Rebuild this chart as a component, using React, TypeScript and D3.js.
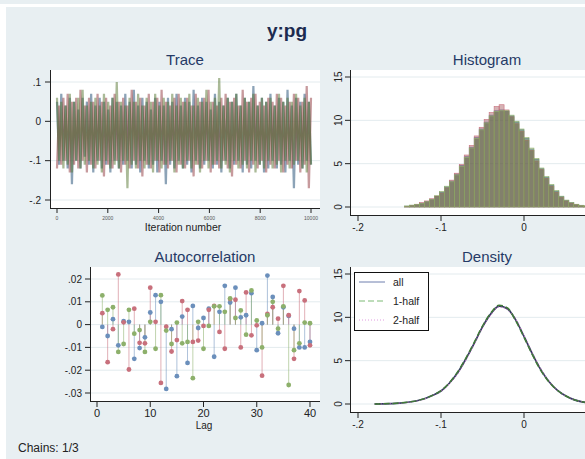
import React from 'react';
import * as d3 from 'd3';

// chain colours (stata s2color style)
const chainLine = ['#1a476f', '#90353b', '#55752f'];
const chainDot = ['#6b8fbb', '#c8707c', '#8db06b'];

// ---- trace: one value every ~84 iterations, three chains
const traceChain1 = [
  0.05, -0.11, 0.07, -0.10, 0.04, -0.12, 0.06, -0.16, 0.05, -0.10,
  0.03, -0.12, 0.06, -0.09, 0.05, -0.11, 0.07, -0.13, 0.04, -0.10,
  0.06, -0.12, 0.05, -0.11, 0.03, -0.13, 0.06, -0.10, 0.05, -0.12,
  0.04, -0.11, 0.07, -0.10, 0.05, -0.12, 0.08, -0.11, 0.04, -0.13,
  0.06, -0.10, 0.05, -0.12, 0.03, -0.11, 0.06, -0.13, 0.05, -0.10,
  0.04, -0.16, 0.06, -0.11, 0.05, -0.12, 0.07, -0.10, 0.04, -0.12,
  0.06, -0.11, 0.05, -0.13, 0.08, -0.10, 0.04, -0.12, 0.06, -0.11,
  0.05, -0.10, 0.03, -0.12, 0.07, -0.11, 0.05, -0.13, 0.04, -0.10,
  0.06, -0.12, 0.05, -0.11, 0.07, -0.10, 0.04, -0.13, 0.06, -0.11,
  0.05, -0.12, 0.09, -0.10, 0.04, -0.11, 0.06, -0.13, 0.05, -0.12,
  0.07, -0.10, 0.04, -0.12, 0.06, -0.11, 0.05, -0.13, 0.08, -0.10,
  0.04, -0.17, 0.06, -0.11, 0.05, -0.12, 0.07, -0.10, 0.05, -0.11,
];
const traceChain2 = [
  -0.12, 0.04, -0.11, 0.06, -0.10, 0.07, -0.13, 0.05, -0.11, 0.06,
  -0.12, 0.08, -0.10, 0.04, -0.13, 0.06, -0.11, 0.05, -0.12, 0.07,
  -0.10, 0.05, -0.14, 0.06, -0.11, 0.04, -0.12, 0.07, -0.10, 0.05,
  -0.13, 0.06, -0.11, 0.04, -0.12, 0.08, -0.10, 0.05, -0.12, 0.06,
  -0.14, 0.04, -0.11, 0.07, -0.12, 0.05, -0.10, 0.06, -0.13, 0.08,
  -0.11, 0.05, -0.12, 0.04, -0.10, 0.06, -0.13, 0.07, -0.11, 0.05,
  -0.12, 0.06, -0.10, 0.04, -0.14, 0.07, -0.11, 0.05, -0.12, 0.06,
  -0.10, 0.08, -0.13, 0.05, -0.11, 0.04, -0.12, 0.06, -0.10, 0.07,
  -0.12, 0.05, -0.14, 0.06, -0.11, 0.04, -0.12, 0.08, -0.10, 0.05,
  -0.13, 0.06, -0.11, 0.07, -0.12, 0.05, -0.10, 0.04, -0.13, 0.06,
  -0.11, 0.05, -0.12, 0.07, -0.10, 0.06, -0.13, 0.04, -0.11, 0.05,
  -0.12, 0.07, -0.10, 0.06, -0.13, 0.05, -0.11, 0.09, -0.17, 0.06,
];
const traceChain3 = [
  0.06, -0.10, 0.05, -0.12, 0.04, -0.11, 0.07, -0.13, 0.05, -0.10,
  0.06, -0.12, 0.08, -0.11, 0.04, -0.10, 0.05, -0.12, 0.06, -0.11,
  0.04, -0.13, 0.07, -0.10, 0.05, -0.12, 0.06, -0.11, 0.10, -0.12,
  0.05, -0.10, 0.04, -0.17, 0.06, -0.11, 0.05, -0.12, 0.07, -0.10,
  0.04, -0.12, 0.06, -0.11, 0.05, -0.13, 0.07, -0.10, 0.04, -0.12,
  0.06, -0.11, 0.05, -0.10, 0.07, -0.13, 0.04, -0.11, 0.06, -0.12,
  0.05, -0.10, 0.07, -0.12, 0.04, -0.11, 0.06, -0.13, 0.05, -0.10,
  0.08, -0.12, 0.05, -0.11, 0.06, -0.10, 0.11, -0.12, 0.04, -0.11,
  0.06, -0.13, 0.05, -0.10, 0.07, -0.12, 0.04, -0.11, 0.06, -0.12,
  0.05, -0.10, 0.07, -0.13, 0.04, -0.11, 0.06, -0.12, 0.05, -0.10,
  0.06, -0.12, 0.04, -0.11, 0.07, -0.13, 0.05, -0.10, 0.06, -0.12,
  0.05, -0.11, 0.07, -0.10, 0.04, -0.12, 0.06, -0.13, 0.05, -0.11,
];
const traceIterations = 10000;
const traceXTicks = [0, 2000, 4000, 6000, 8000, 10000];
const traceYTicks = [-0.2, -0.1, 0, 0.1];
const traceYLabels = ['-.2', '-.1', '0', '.1'];

// ---- histogram: density per bin, bins start at -.144, width .006
const histBinLow = -0.144;
const histBinWidth = 0.006;
const histChain1 = [0.1, 0.2, 0.3, 0.45, 0.65, 0.9, 1.2, 1.7, 2.3, 3.0, 3.8, 4.8, 5.8, 6.9, 8.0, 9.0, 9.8, 10.6, 11.1, 11.2,
  11.0, 10.5, 9.8, 8.9, 7.9, 6.6, 5.5, 4.4, 3.4, 2.5, 1.8, 1.2, 0.75, 0.5, 0.3, 0.2, 0.12, 0.07, 0.04];
const histChain2 = [0.08, 0.18, 0.32, 0.5, 0.7, 0.95, 1.25, 1.6, 2.2, 3.1, 3.9, 4.9, 6.0, 7.1, 8.2, 9.2, 10.1, 10.9, 11.6, 11.8,
  11.2, 10.4, 9.6, 8.7, 7.7, 6.5, 5.3, 4.3, 3.3, 2.4, 1.7, 1.1, 0.7, 0.45, 0.28, 0.18, 0.1, 0.06, 0.03];
const histChain3 = [0.12, 0.22, 0.28, 0.42, 0.6, 0.85, 1.3, 1.8, 2.4, 2.9, 3.7, 4.7, 5.7, 6.8, 7.9, 8.9, 9.7, 10.5, 11.0, 11.1,
  11.1, 10.6, 9.9, 9.0, 8.0, 6.8, 5.6, 4.5, 3.5, 2.6, 1.9, 1.25, 0.8, 0.5, 0.32, 0.2, 0.13, 0.08, 0.05];
const valueXTicks = [-0.2, -0.1, 0];
const valueXLabels = ['-.2', '-.1', '0'];
const densYTicks = [0, 5, 10, 15];

// ---- autocorrelation, lags 1..40
const acLags = d3.range(1, 41);
const acChain1 = [-0.001, -0.005, 0.0024, -0.0091, 0.0015, 0.0012, -0.015, -0.0103, -0.0056, 0.0053,
  0.0129, 0.01, -0.0282, -0.002, -0.0226, 0.0035, -0.0168, 0.0082, -0.0015, 0.0029,
  0.007, -0.0141, 0.0056, 0.017, 0.0097, 0.0162, 0.0032, 0.0041, 0.0138, -0.0112,
  0.0006, 0.0215, 0.0121, -0.0038, 0.0076, 0.0038, -0.0018, -0.01, -0.01, -0.0076];
const acChain2 = [0.005, -0.0165, -0.002, 0.022, 0.001, -0.0197, 0.007, -0.008, -0.0082, 0.0162,
  0.0012, -0.0256, -0.0009, -0.0118, -0.0068, 0.0103, 0.0065, -0.0076, -0.007, -0.0006,
  0.0065, 0.0082, -0.0032, -0.0106, 0.0112, 0.0109, -0.01, 0.0141, -0.0047, -0.0003,
  -0.0224, 0.0047, 0.0076, 0.0026, 0.017, 0.0041, -0.015, 0.0147, 0.0106, -0.0091];
const acChain3 = [0.0128, 0.0065, 0.0076, -0.012, -0.0085, 0.0065, -0.004, -0.0024, -0.012, 0.0012,
  -0.0106, 0.0129, -0.0026, -0.0085, 0.0009, -0.0082, -0.0076, -0.0235, 0.0012, -0.0106,
  -0.0006, 0.008, 0.008, 0.0056, 0.0115, 0.0029, 0.0062, -0.0044, 0.015, 0.0018,
  -0.01, 0.0041, 0.01, -0.0018, 0.008, -0.0265, -0.0112, -0.0082, 0.0009, 0.0006];
const acXTicks = [0, 10, 20, 30, 40];
const acYTicks = [-0.03, -0.02, -0.01, 0, 0.01, 0.02];
const acYLabels = ['-.03', '-.02', '-.01', '0', '.01', '.02'];

// ---- kernel density
const densX = [-0.18, -0.17, -0.16, -0.15, -0.14, -0.13, -0.12, -0.11, -0.10, -0.09, -0.08, -0.07, -0.06, -0.05, -0.04,
  -0.03, -0.02, -0.01, 0.0, 0.01, 0.02, 0.03, 0.04, 0.05, 0.06, 0.07, 0.08, 0.09, 0.10];
const densAll = [0.0, 0.02, 0.05, 0.1, 0.2, 0.35, 0.6, 1.0, 1.5, 2.4, 3.6, 5.2, 7.0, 8.9, 10.4,
  11.3, 11.0, 9.7, 7.8, 5.8, 4.0, 2.6, 1.6, 0.95, 0.5, 0.25, 0.12, 0.06, 0.03];
const densFirst = [0.0, 0.02, 0.06, 0.11, 0.21, 0.36, 0.62, 1.0, 1.55, 2.45, 3.7, 5.3, 7.1, 9.0, 10.5,
  11.4, 11.1, 9.6, 7.7, 5.7, 3.9, 2.55, 1.6, 0.95, 0.5, 0.25, 0.12, 0.06, 0.03];
const densSecond = [0.0, 0.02, 0.05, 0.09, 0.19, 0.34, 0.58, 0.98, 1.45, 2.35, 3.5, 5.1, 6.9, 8.8, 10.3,
  11.2, 10.9, 9.8, 7.9, 5.9, 4.1, 2.65, 1.6, 0.95, 0.5, 0.25, 0.12, 0.06, 0.03];
const densSeries = [
  { name: 'all', values: densAll, color: '#2f3c5c', legend: '#6f7fae', dash: '', width: 1.7 },
  { name: '2-half', values: densSecond, color: '#c865c8', legend: '#e09ae0', dash: '1,2', width: 1.2 },
  { name: '1-half', values: densFirst, color: '#3f7a37', legend: '#7cba74', dash: '6,3', width: 1.5 },
];
const legendOrder = ['all', '1-half', '2-half'];

const FONT = '"Liberation Sans", Arial, sans-serif';
const BG = '#e8eff2';
const GRID = '#e3ebee';
const TITLE = '#253a66';

function App() {
  // scales
  const tx = d3.scaleLinear().domain([0, traceIterations]).range([57, 311]);
  const ty = d3.scaleLinear().domain([-0.2, 0.1]).range([200, 82]);
  const hx = d3.scaleLinear().domain([-0.2, 0]).range([358, 524]);
  const hy = d3.scaleLinear().domain([0, 15]).range([207, 77]);
  const dy = d3.scaleLinear().domain([0, 15]).range([404, 274]);
  const ax = d3.scaleLinear().domain([0, 40]).range([97, 310]);
  const ay = d3.scaleLinear().domain([-0.03, 0.02]).range([393, 279]);

  const traces = [traceChain1, traceChain2, traceChain3];
  const hists = [histChain1, histChain2, histChain3];
  const acs = [acChain1, acChain2, acChain3];

  const traceLine = (vals: number[]) =>
    d3.line<number>()
      .x((_, i) => tx((i * traceIterations) / (vals.length - 1)))
      .y(d => ty(d))(vals) || '';

  const densLine = (vals: number[]) =>
    d3.line<number>()
      .x((_, i) => hx(densX[i]))
      .y(d => dy(d))
      .curve(d3.curveMonotoneX)(vals) || '';

  const tickText = { fontFamily: FONT, fontSize: 10, fill: '#222' };

  return (
    <svg width={585} height={459} style={{ position: 'absolute', left: 0, top: 0, display: 'block' }}>
      <rect x={0} y={0} width={585} height={459} fill="#fff" />
      <rect x={0} y={0} width={585} height={4} fill={BG} />
      <rect x={6} y={7} width={579} height={452} fill={BG} />

      <text x={287} y={37} textAnchor="middle" fontFamily={FONT} fontWeight="bold" fontSize={19} fill="#1c2b4f">y:pg</text>

      {/* ---------- Trace ---------- */}
      <text x={185} y={65} textAnchor="middle" fontFamily={FONT} fontSize={15} fill={TITLE}>Trace</text>
      <rect x={51} y={70} width={269} height={138} fill="#fff" />
      {traceYTicks.map(t => (
        <line key={t} x1={51} x2={320} y1={ty(t)} y2={ty(t)} stroke={GRID} />
      ))}
      {traces.map((c, k) => (
        <path key={k} d={traceLine(c)} fill="none" stroke={chainLine[k]} strokeOpacity={0.5}
          strokeWidth={2.2} strokeLinejoin="bevel" />
      ))}
      <line x1={50.5} x2={50.5} y1={70} y2={208.5} stroke="#222" />
      <line x1={50} x2={320} y1={208.5} y2={208.5} stroke="#222" />
      {traceYTicks.map((t, i) => (
        <g key={t}>
          <line x1={45} x2={50} y1={ty(t)} y2={ty(t)} stroke="#222" />
          <text x={41} y={ty(t) + 3.5} textAnchor="end" {...tickText}>{traceYLabels[i]}</text>
        </g>
      ))}
      {traceXTicks.map(t => (
        <g key={t}>
          <line x1={tx(t)} x2={tx(t)} y1={208.5} y2={213} stroke="#222" />
          <text x={tx(t)} y={220} textAnchor="middle" fontFamily={FONT} fontSize={5} fill="#555">{t}</text>
        </g>
      ))}
      <text x={183} y={231} textAnchor="middle" fontFamily={FONT} fontSize={10.5} fill="#222">Iteration number</text>

      {/* ---------- Histogram ---------- */}
      <text x={487} y={65} textAnchor="middle" fontFamily={FONT} fontSize={15} fill={TITLE}>Histogram</text>
      <rect x={351} y={70} width={240} height={145} fill="#fff" />
      {densYTicks.map(t => (
        <line key={t} x1={351} x2={591} y1={hy(t)} y2={hy(t)} stroke={GRID} />
      ))}
      {hists.map((h, k) => (
        <g key={k}>
          {h.map((v, i) => {
            const x0 = histBinLow + i * histBinWidth;
            return (
              <rect key={i} x={hx(x0)} y={hy(v)} width={hx(x0 + histBinWidth) - hx(x0)} height={hy(0) - hy(v)}
                fill={chainLine[k]} fillOpacity={0.38} stroke={chainDot[k]} strokeWidth={0.6} />
            );
          })}
        </g>
      ))}
      <line x1={350.5} x2={350.5} y1={70} y2={216} stroke="#222" />
      <line x1={350} x2={591} y1={215.5} y2={215.5} stroke="#222" />
      {densYTicks.map(t => (
        <g key={t}>
          <line x1={345} x2={350} y1={hy(t)} y2={hy(t)} stroke="#222" />
          <text transform={`translate(${342},${hy(t)}) rotate(-90)`} textAnchor="middle" {...tickText}>{t}</text>
        </g>
      ))}
      {valueXTicks.map((t, i) => (
        <g key={t}>
          <line x1={hx(t)} x2={hx(t)} y1={216} y2={221} stroke="#222" />
          <text x={hx(t)} y={231} textAnchor="middle" {...tickText}>{valueXLabels[i]}</text>
        </g>
      ))}

      {/* ---------- Autocorrelation ---------- */}
      <text x={205} y={262} textAnchor="middle" fontFamily={FONT} fontSize={15} fill={TITLE}>Autocorrelation</text>
      <rect x={91} y={267} width={229} height={134} fill="#fff" />
      {acYTicks.map(t => (
        <line key={t} x1={91} x2={320} y1={ay(t)} y2={ay(t)} stroke={GRID} />
      ))}
      {acs.map((c, k) => (
        <g key={k}>
          {c.map((v, i) => (
            <line key={i} x1={ax(acLags[i])} x2={ax(acLags[i])} y1={ay(0)} y2={ay(v)}
              stroke={chainDot[k]} strokeOpacity={0.55} strokeWidth={1} />
          ))}
        </g>
      ))}
      {acs.map((c, k) => (
        <g key={k}>
          {c.map((v, i) => (
            <circle key={i} cx={ax(acLags[i])} cy={ay(v)} r={2.4} fill={chainDot[k]} />
          ))}
        </g>
      ))}
      <line x1={90.5} x2={90.5} y1={267} y2={402} stroke="#222" />
      <line x1={90} x2={320} y1={401.5} y2={401.5} stroke="#222" />
      {acYTicks.map((t, i) => (
        <g key={t}>
          <line x1={85} x2={90} y1={ay(t)} y2={ay(t)} stroke="#222" />
          <text x={82} y={ay(t) + 3.5} textAnchor="end" {...tickText}>{acYLabels[i]}</text>
        </g>
      ))}
      {acXTicks.map(t => (
        <g key={t}>
          <line x1={ax(t)} x2={ax(t)} y1={402} y2={407} stroke="#222" />
          <text x={ax(t)} y={417} textAnchor="middle" fontFamily={FONT} fontSize={11} fill="#222">{t}</text>
        </g>
      ))}
      <text x={204} y={429} textAnchor="middle" fontFamily={FONT} fontSize={10} fill="#222">Lag</text>

      {/* ---------- Density ---------- */}
      <text x={487} y={262} textAnchor="middle" fontFamily={FONT} fontSize={15} fill={TITLE}>Density</text>
      <rect x={351} y={267} width={240} height={145} fill="#fff" />
      {densYTicks.map(t => (
        <line key={t} x1={351} x2={591} y1={dy(t)} y2={dy(t)} stroke={GRID} />
      ))}
      {densSeries.map(s => (
        <path key={s.name} d={densLine(s.values)} fill="none" stroke={s.color} strokeWidth={s.width}
          strokeDasharray={s.dash || undefined} />
      ))}
      <line x1={350.5} x2={350.5} y1={267} y2={412.5} stroke="#222" />
      <line x1={350} x2={591} y1={412.5} y2={412.5} stroke="#222" />
      {densYTicks.map(t => (
        <g key={t}>
          <line x1={345} x2={350} y1={dy(t)} y2={dy(t)} stroke="#222" />
          <text transform={`translate(${342},${dy(t)}) rotate(-90)`} textAnchor="middle" {...tickText}>{t}</text>
        </g>
      ))}
      {valueXTicks.map((t, i) => (
        <g key={t}>
          <line x1={hx(t)} x2={hx(t)} y1={413} y2={418} stroke="#222" />
          <text x={hx(t)} y={428} textAnchor="middle" {...tickText}>{valueXLabels[i]}</text>
        </g>
      ))}
      <rect x={354.5} y={272.5} width={74} height={58} fill="#fff" stroke="#111" strokeWidth={1} />
      {legendOrder.map((name, i) => {
        const s = densSeries.find(d => d.name === name)!;
        return (
          <g key={name}>
            <line x1={359} x2={385} y1={282 + i * 19} y2={282 + i * 19} stroke={s.legend} strokeWidth={1}
              strokeDasharray={s.dash || undefined} />
            <text x={393} y={286 + i * 19} fontFamily={FONT} fontSize={10.5} fill="#222">{name}</text>
          </g>
        );
      })}

      <text x={18} y={452} fontFamily={FONT} fontSize={12} fill="#222">Chains: 1/3</text>
    </svg>
  );
}

export default App;
